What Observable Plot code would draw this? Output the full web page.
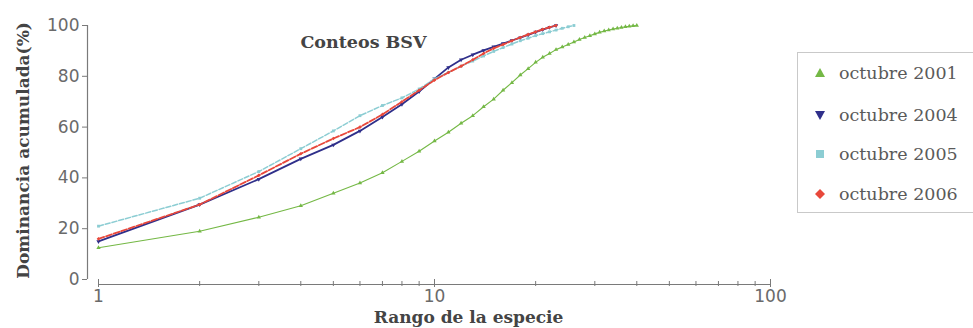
<!DOCTYPE html>
<html><head><meta charset="utf-8">
<script src="https://cdn.jsdelivr.net/npm/d3@7"></script>
<script src="https://cdn.jsdelivr.net/npm/@observablehq/plot@0.6"></script>
<style>
body{margin:0;background:#fff;}
#wrap{position:relative;width:973px;height:328px;overflow:hidden;background:#fff;}
#legend{position:absolute;left:797px;top:52px;width:200px;height:161px;border:1px solid #c9c9c9;box-sizing:border-box;font-family:'DejaVu Serif',serif;font-size:17.5px;color:#5a5a5a;}
.row{position:absolute;left:16px;height:20px;display:flex;align-items:center;white-space:nowrap;font-family:'DejaVu Serif',serif;}
.row svg{margin-right:13px;}
</style></head>
<body><div id="wrap"></div>
<script>
// ---- data ----
const seriesNames = ["octubre 2001", "octubre 2004", "octubre 2005", "octubre 2006"];
const seriesColors = ["#74b845", "#2f2f8a", "#8ccdd3", "#e8483b"];
const v2001 = [12.5, 19, 24.5, 29, 34, 38, 42, 46.5, 50.5, 54.5, 58, 61.5, 64.5, 68, 71, 74.5, 77.5, 80.5, 83, 85.5,
               87.5, 89, 90.5, 91.5, 92.5, 93.5, 94.5, 95.3, 96, 96.7, 97.3, 97.8, 98.2, 98.6, 98.9, 99.2, 99.5, 99.7, 99.9, 100];
const v2004 = [15, 29.5, 39.5, 47.5, 53, 58.5, 64, 69, 74, 79, 83.5, 86.5, 88.5, 90.2, 91.6, 92.9, 94.1, 95.2, 96.3, 97.4,
               98.4, 99.3, 100];
const v2005 = [21, 32, 42.5, 51.5, 58.5, 64.5, 68.5, 71.5, 75, 79, 81.5, 84, 86, 88, 89.8, 91.3, 92.7, 94, 95, 96,
               96.8, 97.5, 98.2, 98.9, 99.5, 100];
const v2006 = [16, 29.5, 41, 49.5, 55.5, 60, 65, 70, 74.5, 78.5, 81.5, 84, 86.5, 89, 91, 92.5, 94, 95.3, 96.5, 97.5,
               98.5, 99.3, 100];
const yTicks = [0, 20, 40, 60, 80, 100];
const xMajorTicks = [1, 10, 100];
const xMinorTicks = [2, 3, 4, 5, 6, 7, 8, 9, 20, 30, 40, 50, 60, 70, 80, 90];
const titleText = "Conteos BSV";
const xLabel = "Rango de la especie";
const yLabel = "Dominancia acumulada(%)";

const allValues = [v2001, v2004, v2005, v2006];
const styles = [
  {dash: null, width: 1.1, symbol: "triangle", rotate: 0},
  {dash: null, width: 1.8, symbol: "triangle", rotate: 180},
  {dash: "5,2", width: 1.5, symbol: "square", rotate: 0},
  {dash: "6,2", width: 1.8, symbol: "diamond2", rotate: 0}
];

const marks = [
  Plot.ruleX([1], {y1: 0, y2: 100, dx: -11, stroke: "#7a7a7a", strokeWidth: 1.2}),
  Plot.ruleY([0], {x1: 1, x2: 100, dy: 5, stroke: "#7a7a7a", strokeWidth: 1.2}),
  Plot.axisY({ticks: yTicks, dx: -11, tickSize: 5, tickPadding: 3, stroke: "#7a7a7a", fill: "#6a6a6a", label: null}),
  Plot.axisX({ticks: xMajorTicks, dy: 0, tickSize: 8, tickPadding: 2, stroke: "#7a7a7a", fill: "#6a6a6a", label: null, tickFormat: d3.format("d")}),
  Plot.axisX({ticks: xMinorTicks, dy: 2, tickSize: 5, stroke: "#7a7a7a", tickFormat: () => "", label: null})
];

allValues.forEach((vals, i) => {
  const data = vals.map((v, k) => ({rank: k + 1, value: v}));
  const s = styles[i];
  marks.push(Plot.line(data, {x: "rank", y: "value", stroke: seriesColors[i], strokeWidth: s.width, strokeDasharray: s.dash}));
  marks.push(Plot.dot(data, {x: "rank", y: "value", symbol: () => s.symbol, rotate: s.rotate, r: 1.6, fill: seriesColors[i], stroke: "none"}));
});

marks.push(Plot.text([titleText], {frameAnchor: "top", dx: -71, dy: 10, fontFamily: "DejaVu Serif", fontWeight: "bold", fontSize: 17.5, fill: "#444"}));
marks.push(Plot.text([xLabel], {frameAnchor: "bottom", dx: 34, dy: 38, lineAnchor: "middle", fontFamily: "DejaVu Serif", fontWeight: "bold", fontSize: 17, fill: "#444"}));
marks.push(Plot.text([yLabel], {frameAnchor: "left", rotate: -90, textAnchor: "middle", dx: -75, dy: -2, fontFamily: "DejaVu Serif", fontWeight: "bold", fontSize: 17, fill: "#444"}));

const chart = Plot.plot({
  width: 973,
  height: 328,
  marginLeft: 98,
  marginRight: 203,
  marginTop: 25,
  marginBottom: 49,
  style: {fontFamily: "DejaVu Sans", fontSize: "17px", background: "#fff", overflow: "visible"},
  x: {type: "log", domain: [1, 100]},
  y: {domain: [0, 100]},
  marks
});
const wrap = document.getElementById("wrap");
wrap.appendChild(chart);

// legend
const legend = document.createElement("div");
legend.id = "legend";
const shapes = [
  '<polygon points="6,1 11,10 1,10"/>',
  '<polygon points="1,2 11,2 6,11"/>',
  '<rect x="2" y="2" width="8" height="8"/>',
  '<polygon points="6,1 11,6 6,11 1,6"/>'
];
const rowTops = [10, 52, 91, 131];
seriesNames.forEach((name, i) => {
  const row = document.createElement("div");
  row.className = "row";
  row.style.top = rowTops[i] + "px";
  row.innerHTML = `<svg width="12" height="12"><g fill="${seriesColors[i]}">${shapes[i]}</g></svg><span>${name}</span>`;
  legend.appendChild(row);
});
wrap.appendChild(legend);
</script>
</body></html>
